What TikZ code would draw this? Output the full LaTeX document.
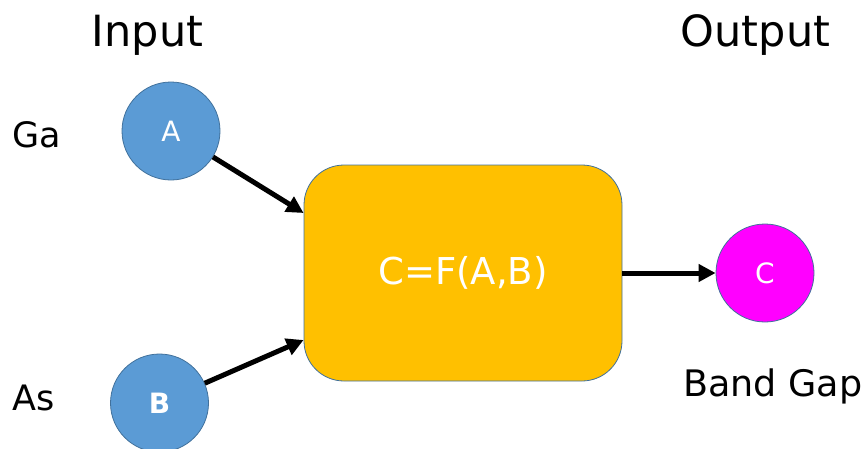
\documentclass[tikz,border=0pt]{standalone}
\usepackage{fontspec}
\setmainfont{DejaVu Sans}
\usetikzlibrary{arrows.meta,calc}
\definecolor{cblue}{HTML}{5B9BD5}
\definecolor{cedge}{HTML}{41719C}
\definecolor{cgold}{HTML}{FFC000}
\definecolor{cmag}{HTML}{FF00FF}
\begin{document}
\begin{tikzpicture}[x=1pt,y=-1pt,
  var/.style={circle,draw=cedge,line width=0.8pt,minimum size=98pt,inner sep=0pt,text=white,font=\fontsize{28}{32}\selectfont},
  func/.style={rounded corners=40pt,draw=cedge,line width=0.8pt,fill=cgold,minimum width=318pt,minimum height=216pt,text=white,font=\fontsize{37}{44}\selectfont},
  lbl/.style={inner sep=0pt,font=\fontsize{35}{42}\selectfont},
  head/.style={inner sep=0pt,font=\fontsize{43}{50}\selectfont},
  conn/.style={line width=5pt,-{Triangle[length=17pt,width=17pt]}}]
\useasboundingbox (0,0) rectangle (863,448);
\node[var,fill=cblue] (A) at (171,131) {A};
\node[var,fill=cblue,font=\fontsize{28}{32}\selectfont\bfseries] (B) at (159.5,403) {B};
\node[var,fill=cmag] (C) at (765,273) {C};
\node[func] (F) at (463,273) {C=F(A,B)};
\node[head,anchor=base] (tin) at (147.5,46) {Input};
\node[head,anchor=base] (tout) at (755.5,46) {Output};
\node[lbl,anchor=base west] (ga) at (12,147) {Ga};
\node[lbl,anchor=base west] (as) at (12,410) {As};
\node[lbl,anchor=base west,font=\fontsize{36.5}{42}\selectfont] (bg) at (683,396) {Band Gap};
\draw[conn] (A) -- ([yshift=60pt]F.west);
\draw[conn] (B) -- ([yshift=-67pt]F.west);
\draw[conn] (F.east) -- (C);
\end{tikzpicture}
\end{document}
